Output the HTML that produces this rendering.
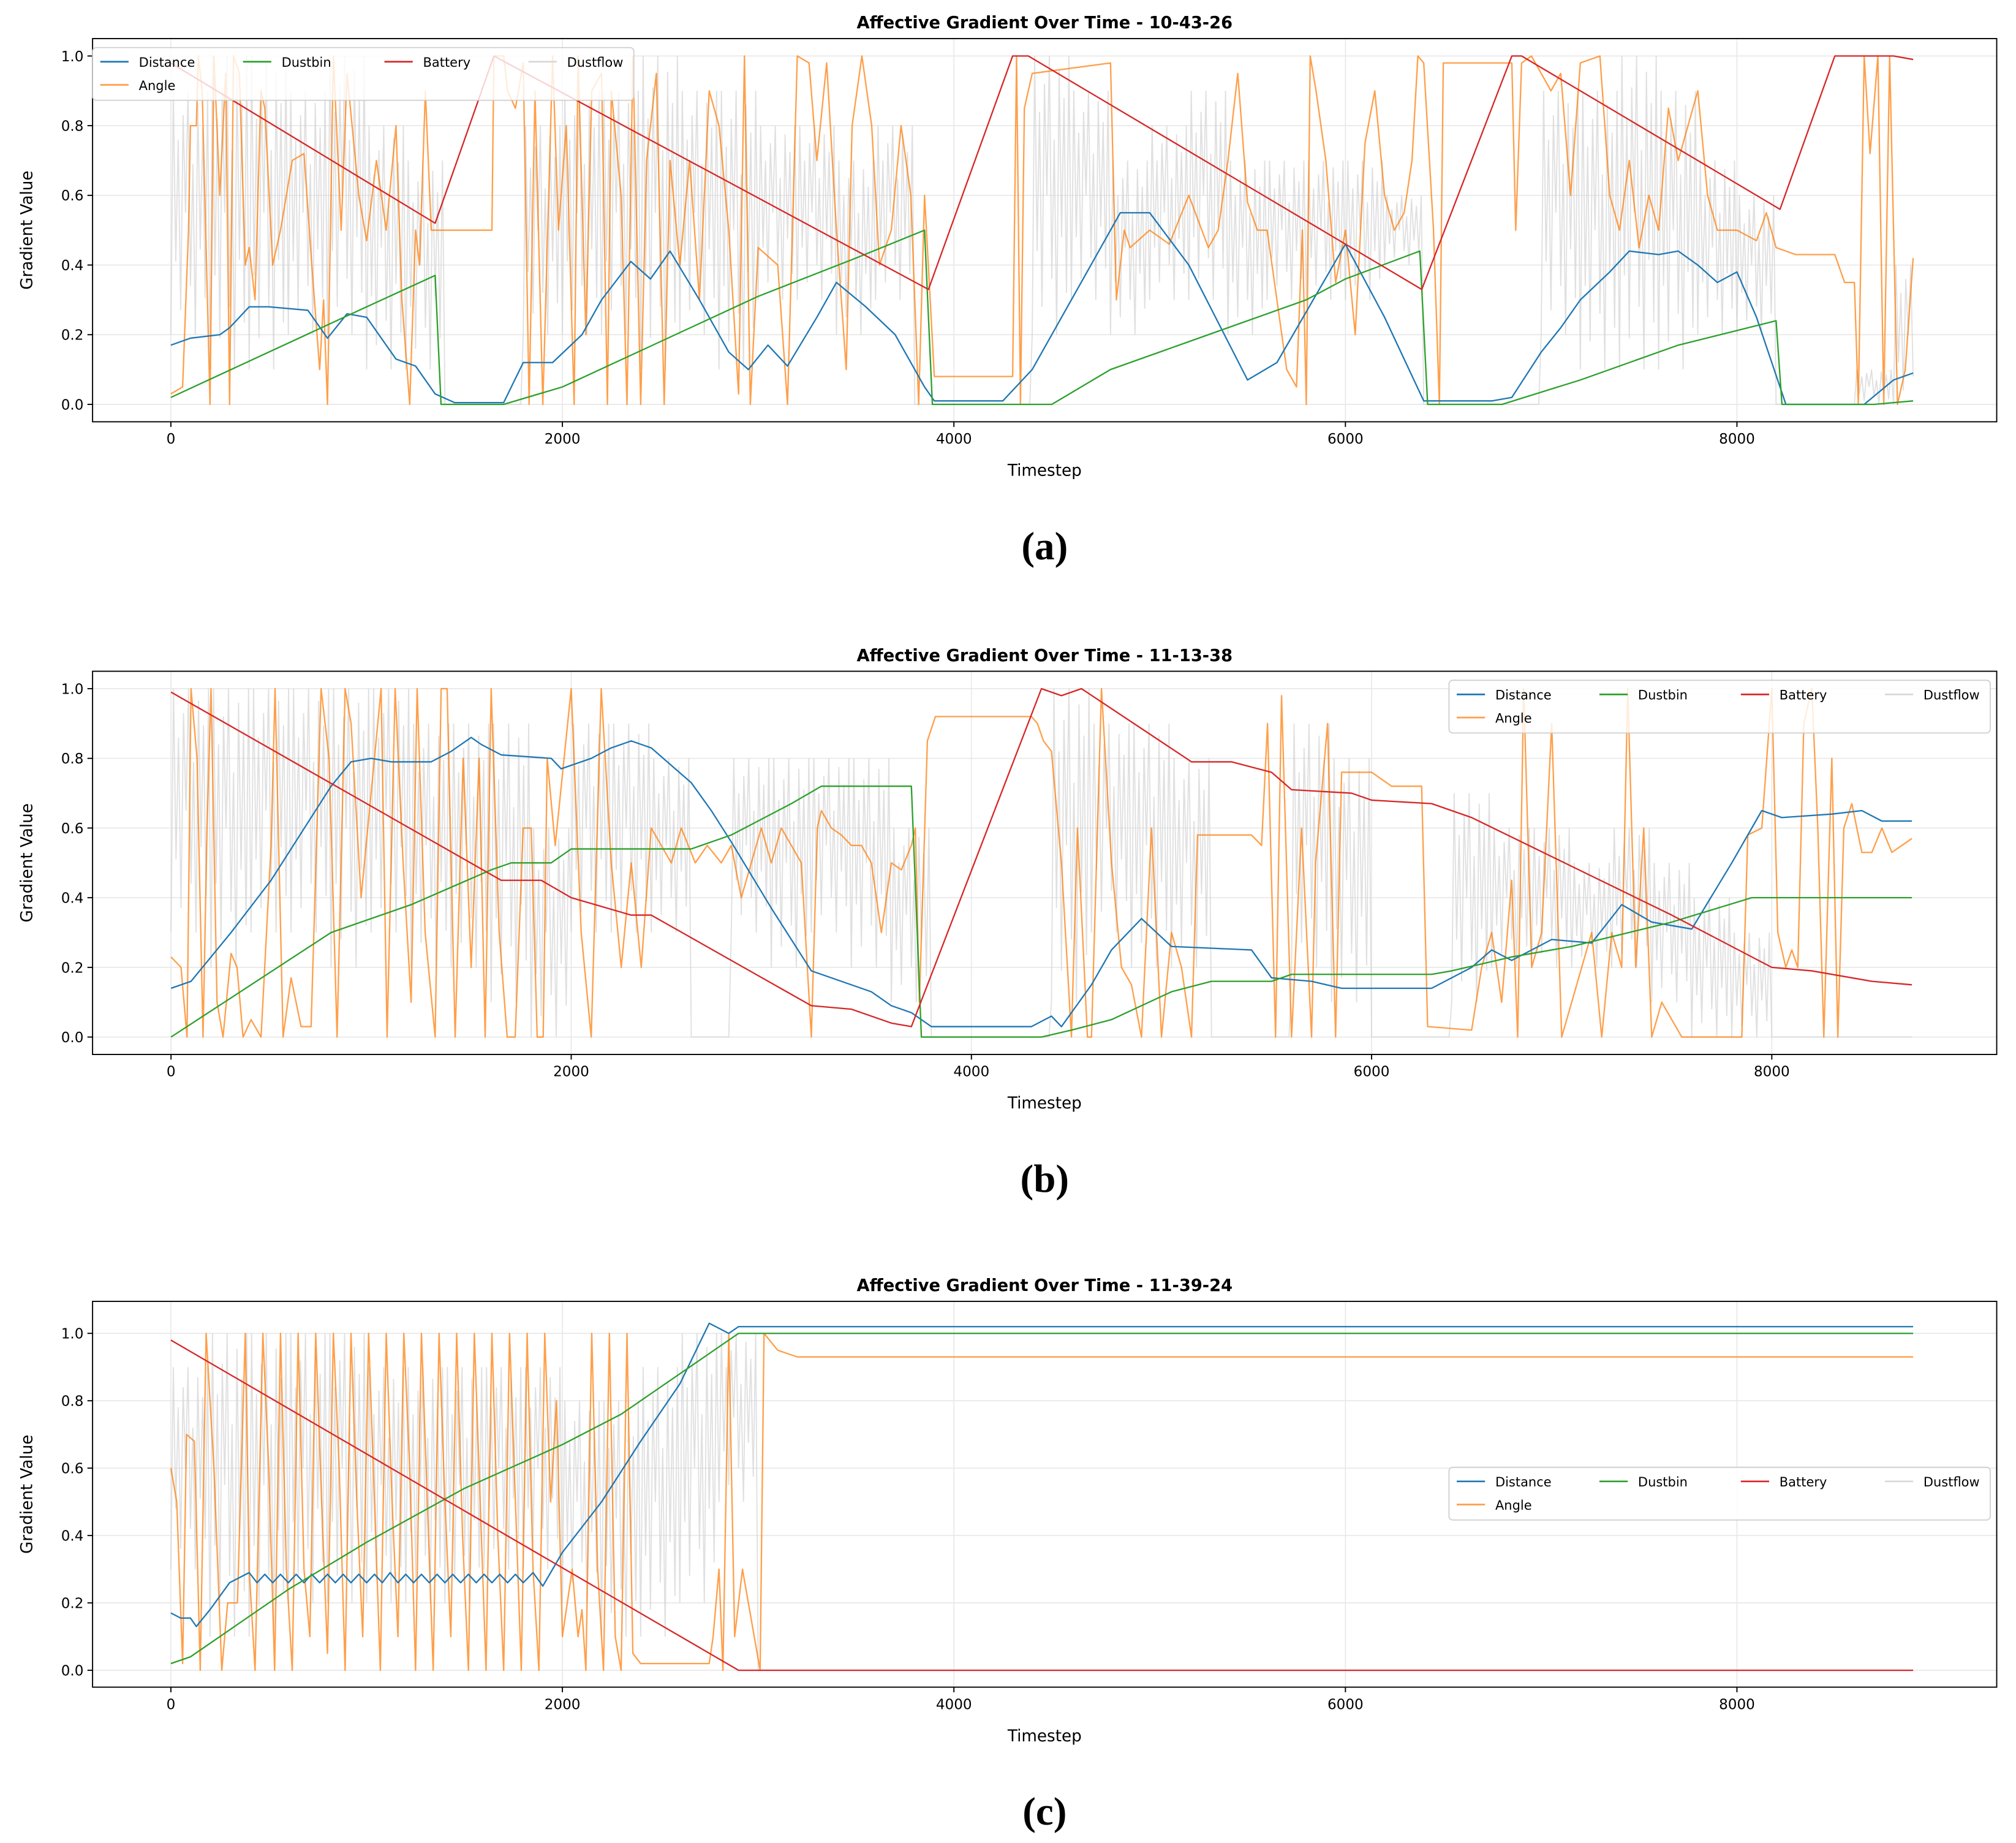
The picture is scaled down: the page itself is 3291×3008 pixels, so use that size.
<!DOCTYPE html>
<html><head><meta charset="utf-8"><style>
html,body{margin:0;padding:0;background:#fff}
svg{display:block}
text{font-family:"DejaVu Sans","Liberation Sans",sans-serif;fill:#000}
text.cap{font-family:"Liberation Serif","DejaVu Serif",serif}
</style></head><body>
<svg id="fig" width="3291" height="3008" viewBox="0 0 1568 1433.2" preserveAspectRatio="none" xmlns="http://www.w3.org/2000/svg"></svg>
<script>
// ---------- Panel (a) data ----------
const batteryA=[[0,0.98],[1350,0.52],[1650,1.0],[3870,0.33],[4300,1.0],[4380,1.0],[6390,0.33],[6850,1.0],[6900,1.0],[8220,0.56],[8500,1.0],[8800,1.0],[8900,0.99]];
const dustbinA=[[0,0.02],[500,0.15],[1000,0.28],[1350,0.37],[1380,0],[1700,0],[2000,0.05],[2500,0.18],[3000,0.31],[3500,0.42],[3850,0.5],[3890,0],[4500,0],[4800,0.1],[5200,0.18],[5800,0.3],[6000,0.36],[6380,0.44],[6420,0],[6800,0],[7200,0.07],[7700,0.17],[8200,0.24],[8230,0],[8700,0],[8900,0.01]];
const distanceA=[[0,0.17],[100,0.19],[250,0.2],[300,0.22],[400,0.28],[500,0.28],[700,0.27],[800,0.19],[900,0.26],[1000,0.25],[1150,0.13],[1250,0.11],[1350,0.03],[1450,0.005],[1700,0.005],[1800,0.12],[1950,0.12],[2100,0.2],[2200,0.3],[2350,0.41],[2450,0.36],[2550,0.44],[2700,0.3],[2850,0.15],[2950,0.1],[3050,0.17],[3150,0.11],[3300,0.25],[3400,0.35],[3550,0.28],[3700,0.2],[3850,0.05],[3900,0.01],[4250,0.01],[4400,0.1],[4600,0.3],[4850,0.55],[5000,0.55],[5200,0.4],[5500,0.07],[5650,0.12],[6000,0.46],[6200,0.25],[6400,0.01],[6750,0.01],[6850,0.02],[7000,0.15],[7100,0.22],[7200,0.3],[7350,0.38],[7450,0.44],[7600,0.43],[7700,0.44],[7800,0.4],[7900,0.35],[8000,0.38],[8100,0.25],[8250,0.0],[8650,0.0],[8800,0.07],[8900,0.09]];
const angleA=[[0,0.03],[60,0.05],[90,0.5],[100,0.8],[130,0.8],[140,1],[160,0.9],[200,0],[220,1],[250,0.6],[280,0.95],[300,0],[320,1],[350,0.95],[380,0.4],[400,0.45],[430,0.3],[460,0.9],[480,0.85],[520,0.4],[560,0.5],[620,0.7],[680,0.72],[720,0.4],[760,0.1],[780,0.3],[800,0],[830,1],[870,0.5],[900,0.95],[960,0.6],[1000,0.47],[1050,0.7],[1100,0.5],[1150,0.8],[1180,0.3],[1220,0],[1250,0.5],[1270,0.4],[1300,0.9],[1330,0.5],[1380,0.5],[1640,0.5],[1650,1],[1700,1],[1720,0.9],[1760,0.85],[1800,0.98],[1830,0],[1860,0.9],[1900,0],[1950,1],[1980,0.5],[2020,0.8],[2060,0],[2080,1],[2120,0.2],[2150,0.9],[2200,0.95],[2230,0],[2250,0.9],[2300,0.6],[2330,0],[2360,1],[2400,0],[2430,0.7],[2480,0.95],[2520,0],[2550,0.7],[2600,0.4],[2650,0.7],[2700,0.3],[2750,0.9],[2800,0.8],[2850,0.5],[2900,0.03],[2930,1],[2960,0],[3000,0.45],[3100,0.4],[3150,0],[3200,1],[3260,0.98],[3300,0.7],[3350,0.98],[3400,0.5],[3450,0.1],[3480,0.8],[3530,1],[3580,0.8],[3620,0.4],[3680,0.5],[3730,0.8],[3780,0.6],[3820,0],[3850,0.6],[3900,0.08],[4300,0.08],[4320,1],[4340,0],[4360,0.85],[4400,0.95],[4800,0.98],[4830,0.3],[4870,0.5],[4900,0.45],[5000,0.5],[5100,0.46],[5200,0.6],[5300,0.45],[5350,0.5],[5400,0.7],[5450,0.95],[5500,0.58],[5550,0.5],[5600,0.5],[5650,0.3],[5700,0.1],[5750,0.05],[5780,0.5],[5800,0],[5820,1],[5850,0.9],[5900,0.7],[5950,0.35],[6000,0.5],[6050,0.2],[6100,0.75],[6150,0.9],[6200,0.6],[6250,0.5],[6300,0.55],[6340,0.7],[6370,1],[6400,0.98],[6450,0.5],[6480,0],[6500,0.98],[6850,0.98],[6870,0.5],[6900,0.98],[6950,1],[7050,0.9],[7100,0.95],[7150,0.6],[7200,0.98],[7300,1],[7350,0.6],[7400,0.5],[7450,0.7],[7500,0.45],[7550,0.6],[7600,0.5],[7650,0.85],[7700,0.7],[7800,0.9],[7850,0.6],[7900,0.5],[8000,0.5],[8100,0.47],[8150,0.55],[8200,0.45],[8300,0.43],[8500,0.43],[8550,0.35],[8600,0.35],[8620,0],[8650,1],[8680,0.72],[8720,1],[8750,0],[8780,1],[8820,0],[8860,0.1],[8900,0.42]];
const dustLoA=[0.2,0.1,0.1,0.2,0.2,0.1,0.1,0,0,0.2,0.2,0.2,0.1,0.2,0.1,0.3,0.3,0.2,0.3,0,0,0,0.2,0.3,0.2,0.3,0.3,0.2,0.3,0.3,0.3,0.4,0,0,0,0.2,0.1,0.1,0.1,0.2,0.2,0,0,0,0];
const dustHiA=[0.9,1.0,1.0,0.9,1.0,0.8,0.7,0,0,0.8,0.9,0.9,1.0,0.9,0.9,0.8,0.8,0.7,0.8,0,0,0,1.0,0.9,0.7,0.8,0.9,0.7,0.7,0.7,0.7,0.6,0,0,0,0.9,0.9,1.0,0.9,0.7,0.6,0,0,0.1,0.4];

// ---------- Panel (b) data ----------
const batteryB=[[0,0.99],[1650,0.45],[1850,0.45],[2000,0.4],[2300,0.35],[2400,0.35],[3200,0.09],[3400,0.08],[3600,0.04],[3700,0.03],[4350,1.0],[4450,0.98],[4550,1.0],[5100,0.79],[5300,0.79],[5500,0.76],[5600,0.71],[5900,0.70],[6000,0.68],[6300,0.67],[6500,0.63],[7000,0.49],[7500,0.35],[8000,0.2],[8200,0.19],[8500,0.16],[8700,0.15]];
const dustbinB=[[0,0],[800,0.3],[1200,0.38],[1600,0.48],[1700,0.5],[1900,0.5],[2000,0.54],[2600,0.54],[2800,0.58],[3100,0.67],[3250,0.72],[3700,0.72],[3750,0],[4350,0],[4500,0.02],[4700,0.05],[5000,0.13],[5200,0.16],[5500,0.16],[5600,0.18],[6300,0.18],[6400,0.19],[6700,0.23],[7000,0.26],[7500,0.33],[7900,0.4],[8700,0.4]];
const distanceB=[[0,0.14],[100,0.16],[300,0.3],[500,0.45],[800,0.72],[900,0.79],[1000,0.8],[1100,0.79],[1300,0.79],[1400,0.82],[1500,0.86],[1550,0.84],[1650,0.81],[1900,0.8],[1950,0.77],[2100,0.8],[2200,0.83],[2300,0.85],[2400,0.83],[2500,0.78],[2600,0.73],[2700,0.65],[2800,0.56],[3000,0.37],[3200,0.19],[3300,0.17],[3500,0.13],[3600,0.09],[3700,0.07],[3800,0.03],[4300,0.03],[4400,0.06],[4450,0.03],[4600,0.15],[4700,0.25],[4850,0.34],[5000,0.26],[5400,0.25],[5500,0.17],[5700,0.16],[5850,0.14],[6300,0.14],[6500,0.2],[6600,0.25],[6700,0.22],[6900,0.28],[7100,0.27],[7250,0.38],[7400,0.33],[7600,0.31],[7800,0.5],[7950,0.65],[8050,0.63],[8300,0.64],[8450,0.65],[8550,0.62],[8700,0.62]];
const angleB=[[0,0.23],[50,0.2],[80,0],[100,1],[130,0.8],[160,0],[180,0.6],[200,1],[230,0.1],[260,0],[300,0.24],[330,0.2],[360,0],[400,0.05],[450,0],[500,0.55],[520,1],[560,0],[600,0.17],[650,0.03],[700,0.03],[750,1],[790,0.8],[830,0],[870,1],[900,0.9],[950,0.4],[1000,0.7],[1050,1],[1080,0],[1120,1],[1160,0.5],[1200,0.1],[1230,1],[1270,0.3],[1320,0],[1350,1],[1380,1],[1420,0],[1460,0.8],[1500,0.2],[1540,0.8],[1570,0],[1600,1],[1640,0.3],[1680,0],[1720,0],[1760,0.6],[1800,0.6],[1830,0],[1860,0],[1880,0.8],[1920,0.55],[2000,1],[2050,0.3],[2100,0],[2150,1],[2200,0.5],[2250,0.2],[2300,0.5],[2350,0.2],[2400,0.6],[2500,0.5],[2550,0.6],[2620,0.5],[2680,0.55],[2750,0.5],[2800,0.55],[2850,0.4],[2900,0.5],[2950,0.6],[3000,0.5],[3050,0.6],[3100,0.55],[3150,0.5],[3200,0],[3230,0.6],[3250,0.65],[3300,0.6],[3350,0.58],[3400,0.55],[3450,0.55],[3500,0.5],[3550,0.3],[3600,0.5],[3650,0.48],[3700,0.55],[3720,0.6],[3740,0.1],[3780,0.85],[3820,0.92],[4300,0.92],[4330,0.9],[4360,0.85],[4400,0.82],[4450,0.5],[4500,0],[4530,0.6],[4580,0],[4600,0],[4650,1],[4700,0.5],[4750,0.2],[4800,0.15],[4850,0],[4900,0.6],[4950,0],[5000,0.3],[5050,0.2],[5100,0],[5130,0.58],[5400,0.58],[5450,0.55],[5480,0.9],[5520,0],[5550,0.98],[5600,0],[5650,0.6],[5700,0],[5720,0.5],[5780,0.9],[5820,0],[5850,0.76],[6000,0.76],[6100,0.72],[6250,0.72],[6280,0.03],[6500,0.02],[6550,0.2],[6600,0.3],[6650,0.1],[6700,0.45],[6730,0],[6760,1],[6800,0.2],[6850,0.3],[6900,0.9],[6950,0],[7000,0.1],[7100,0.3],[7150,0],[7200,0.3],[7250,0.2],[7280,1],[7320,0.2],[7360,0.6],[7400,0],[7450,0.1],[7550,0],[7850,0],[7880,0.58],[7950,0.6],[8000,1],[8030,0.3],[8070,0.2],[8100,0.25],[8130,0.2],[8160,0.9],[8200,1],[8230,0.6],[8260,0],[8300,0.8],[8330,0],[8360,0.6],[8400,0.67],[8450,0.53],[8500,0.53],[8550,0.6],[8600,0.53],[8700,0.57]];
const dustLoB=[0.3,0.2,0.3,0.3,0.2,0.3,0.2,0.2,0.1,0,0.3,0.3,0.3,0,0.3,0.2,0.3,0.2,0.1,0,0,0,0.1,0.3,0.2,0.2,0,0,0.2,0.1,0,0,0.1,0.2,0.2,0.2,0.2,0.1,0,0,0,0,0,0];
const dustHiB=[1,1,1,1,1,1,0.9,0.9,0.9,0.6,0.9,0.9,0.8,0,0.8,0.8,0.8,0.8,0.6,0,0,0,1,0.9,0.9,0.8,0,0,0.9,0.8,0,0,0.7,0.6,0.6,0.5,0.6,0.5,0.4,0.3,0,0,0,0];

// ---------- Panel (c) data ----------
const batteryC=[[0,0.98],[2900,0],[8900,0]];
const dustbinC=[[0,0.02],[100,0.04],[300,0.12],[600,0.24],[1000,0.38],[1500,0.54],[2000,0.67],[2300,0.76],[2600,0.88],[2900,1.0],[8900,1.0]];
const distanceC=[[0,0.17],[50,0.155],[100,0.155],[130,0.13],[200,0.18],[300,0.26],[400,0.29],[440,0.26],[480,0.285],[520,0.26],[560,0.285],[600,0.26],[640,0.285],[680,0.26],[720,0.285],[760,0.26],[800,0.285],[840,0.26],[880,0.285],[920,0.26],[960,0.285],[1000,0.26],[1040,0.285],[1080,0.26],[1120,0.29],[1160,0.26],[1200,0.285],[1240,0.26],[1280,0.285],[1320,0.26],[1360,0.285],[1400,0.26],[1440,0.285],[1480,0.26],[1520,0.285],[1560,0.26],[1600,0.285],[1640,0.26],[1680,0.285],[1720,0.26],[1760,0.285],[1800,0.26],[1850,0.29],[1900,0.25],[2000,0.35],[2200,0.5],[2400,0.68],[2600,0.85],[2750,1.03],[2850,1.0],[2900,1.02],[8900,1.02]];
const angleC=[[0,0.6],[30,0.5],[60,0.02],[80,0.7],[120,0.68],[150,0],[180,1],[220,0.6],[260,0],[290,0.2],[340,0.2],[380,1],[400,0.3],[430,0],[470,1],[500,0.6],[530,0],[560,1],[590,0.3],[620,0],[650,1],[680,0.3],[710,0.1],[740,1],[770,0.5],[800,0.05],[830,1],[860,0.6],[890,0],[920,1],[950,0.5],[980,0.1],[1010,1],[1040,0.5],[1070,0],[1100,1],[1130,0.5],[1160,0.1],[1190,1],[1220,0.6],[1250,0],[1280,1],[1310,0.5],[1340,0],[1370,1],[1400,0.5],[1430,0.1],[1460,1],[1490,0.4],[1520,0],[1550,1],[1580,0.5],[1610,0],[1640,1],[1670,0.4],[1700,0],[1730,1],[1760,0.5],[1790,0],[1820,1],[1850,0.3],[1880,0],[1910,1],[1940,0.5],[1970,0.8],[2000,0.1],[2050,0.3],[2080,0.1],[2100,0.18],[2120,0],[2150,1],[2180,0.3],[2210,0],[2240,1],[2270,0.1],[2300,0],[2330,1],[2360,0.05],[2400,0.02],[2750,0.02],[2770,0.1],[2800,0.3],[2820,0],[2850,1],[2880,0.1],[2920,0.3],[2980,0.1],[3010,0],[3030,1],[3100,0.95],[3200,0.93],[8900,0.93]];
const dustLoC=[0.3,0.1,0.1,0.2,0.2,0.2,0.2,0.2,0.3,0.3,0.2,0.1,0.1,0.2,0.5,0];
const dustHiC=[0.9,1,1,1,1,0.9,0.9,0.9,0.9,0.9,0.8,0.8,0.9,1,1,0];

const xTicks=[0,2000,4000,6000,8000];
const yTicks=[0,0.2,0.4,0.6,0.8,1.0];
const yTickLabels=["0.0","0.2","0.4","0.6","0.8","1.0"];
const seriesNames=["Distance","Angle","Dustbin","Battery","Dustflow"];
const C={Distance:"#1f77b4",Angle:"#ff7f0e",Dustbin:"#2ca02c",Battery:"#d62728",Dustflow:"#d3d3d3"};

const NS="http://www.w3.org/2000/svg";
const svg=document.getElementById('fig');
function mk(tag,attrs,parent){const e=document.createElementNS(NS,tag);for(const k in attrs)e.setAttribute(k,attrs[k]);(parent||svg).appendChild(e);return e;}
function txt(s,attrs,parent){const e=mk('text',attrs,parent);e.textContent=s;return e;}

const panels=[
 {id:'a',title:'Affective Gradient Over Time - 10-43-26',top:30,bot:328,xmin:-400,xmax:9327,ymin:-0.05,ymax:1.05,tend:8900,bat:batteryA,bin:dustbinA,dist:distanceA,ang:angleA,lo:dustLoA,hi:dustHiA,leg:[72,37],cap:'(a)'},
 {id:'b',title:'Affective Gradient Over Time - 11-13-38',top:522,bot:820,xmin:-392,xmax:9124,ymin:-0.05,ymax:1.05,tend:8700,bat:batteryB,bin:dustbinB,dist:distanceB,ang:angleB,lo:dustLoB,hi:dustHiB,leg:[1127,529],cap:'(b)'},
 {id:'c',title:'Affective Gradient Over Time - 11-39-24',top:1012,bot:1312,xmin:-400,xmax:9327,ymin:-0.05,ymax:1.095,tend:8900,bat:batteryC,bin:dustbinC,dist:distanceC,ang:angleC,lo:dustLoC,hi:dustHiC,leg:[1127,1141],cap:'(c)'}
];
const L=72,R=1553;
const pat=[0,1,0.3,0.8,0.1,0.9,0.5,1,0.2,0.7,0,0.95,0.35,0.85,0.15,1];

panels.forEach(p=>{
 const g=mk('g',{});
 
 
 const X=t=>L+(t-p.xmin)/(p.xmax-p.xmin)*(R-L);
 const Y=v=>p.bot-(v-p.ymin)/(p.ymax-p.ymin)*(p.bot-p.top);
 xTicks.forEach(t=>{const l=mk('line',{x1:X(t),x2:X(t),y1:p.top,y2:p.bot,stroke:'#e8e8e8','stroke-width':0.8},g);});
 yTicks.forEach(v=>{const l=mk('line',{x1:L,x2:R,y1:Y(v),y2:Y(v),stroke:'#e8e8e8','stroke-width':0.8},g);});
 // dustflow
 const dp=[];
 p.lo.forEach((lo,k)=>{const hi=p.hi[k];for(let j=0;j<16;j++){const t=k*200+j*12.5;if(t>p.tend)break;dp.push(X(t).toFixed(2)+','+Y(lo+(hi-lo)*pat[j]).toFixed(2));}});
 const df=mk('polyline',{points:dp.join(' '),fill:'none',stroke:C.Dustflow,'stroke-width':0.9,'stroke-opacity':0.7},g);
 
 
 const line=(arr,color,name,op)=>{const pl=mk('polyline',{points:arr.map(d=>X(d[0]).toFixed(2)+','+Y(d[1]).toFixed(2)).join(' '),fill:'none',stroke:color,'stroke-width':1.1,'stroke-opacity':op,'stroke-linejoin':'round'},g);};
 line(p.ang,C.Angle,'angle-line',0.75);
 line(p.dist,C.Distance,'distance-line',1);
 line(p.bin,C.Dustbin,'dustbin-line',1);
 line(p.bat,C.Battery,'battery-line',1);
 const fr=mk('rect',{x:L,y:p.top,width:R-L,height:p.bot-p.top,fill:'none',stroke:'#000','stroke-width':0.9},g);
 
 
 xTicks.forEach(t=>{mk('line',{x1:X(t),x2:X(t),y1:p.bot,y2:p.bot+4,stroke:'#000','stroke-width':0.9},g);const tl=txt(String(t),{x:X(t),y:p.bot+17,'font-size':11,'text-anchor':'middle'},g);});
 yTicks.forEach((v,i)=>{mk('line',{x1:L-4,x2:L,y1:Y(v),y2:Y(v),stroke:'#000','stroke-width':0.9},g);const tl=txt(yTickLabels[i],{x:L-7,y:Y(v)+4,'font-size':11,'text-anchor':'end'},g);});
 const ti=txt(p.title,{x:(L+R)/2,y:p.top-8,'font-size':13,'font-weight':'bold','text-anchor':'middle'},g);
 
 
 const xl=txt('Timestep',{x:(L+R)/2,y:p.bot+42,'font-size':12.5,'text-anchor':'middle'},g);
 
 
 const yc=(p.top+p.bot)/2;
 const yl=txt('Gradient Value',{x:25,y:yc,'font-size':12.5,'text-anchor':'middle',transform:'rotate(-90 25 '+yc+')'},g);
 
 
 const cap=txt(p.cap,{x:(L+R)/2,y:p.bot+107,'font-size':31,'font-weight':'bold','text-anchor':'middle','class':'cap'},g);
 
 
 const lg=mk('g',{},g);
 
 
 const [lx,ly]=p.leg;
 mk('rect',{x:lx,y:ly,width:421,height:41,rx:3,fill:'#fff','fill-opacity':0.8,stroke:'#cccccc','stroke-width':0.8},lg);
 const pos={Distance:[0,0],Angle:[0,1],Dustbin:[1,0],Battery:[2,0],Dustflow:[3,0]};
 const colX=[6,117,227,339];
 seriesNames.forEach(n=>{
  const [c,r]=pos[n];const x0=lx+colX[c],yy=ly+11+r*18;
  const e=mk('g',{},lg);
  
  
  mk('line',{x1:x0,x2:x0+22,y1:yy,y2:yy,stroke:n==='Dustflow'?'#d8d8d8':C[n],'stroke-width':1.3,'stroke-opacity':n==='Angle'?0.75:1},e);
  txt(n,{x:x0+30,y:yy+4,'font-size':10},e);
 });
});
</script>
</body></html>
